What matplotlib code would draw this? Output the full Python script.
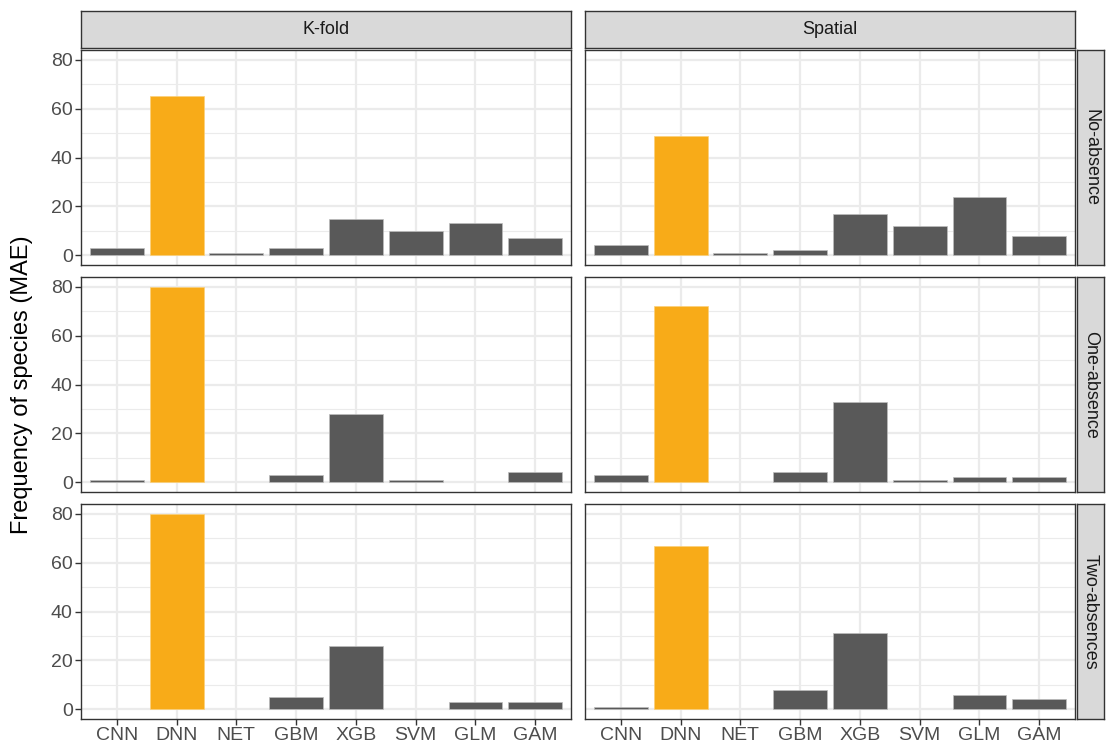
import matplotlib
matplotlib.use("Agg")
import matplotlib.pyplot as plt
import numpy as np

plt.rcParams['font.family'] = ['Liberation Sans', 'DejaVu Sans']

models = ["CNN", "DNN", "NET", "GBM", "XGB", "SVM", "GLM", "GAM"]
cv_types = ["K-fold", "Spatial"]
absences = ["No-absence", "One-absence", "Two-absences"]

# counts of species per model, one list per (absence, cv) panel
kfold_no = [3, 65, 1, 3, 15, 10, 13, 7]
spatial_no = [4, 49, 1, 2, 17, 12, 24, 8]
kfold_one = [1, 80, 0, 3, 28, 1, 0, 4]
spatial_one = [3, 72, 0, 4, 33, 1, 2, 2]
kfold_two = [0, 80, 0, 5, 26, 0, 3, 3]
spatial_two = [1, 67, 0, 8, 31, 0, 6, 4]

panels = [[kfold_no, spatial_no],
          [kfold_one, spatial_one],
          [kfold_two, spatial_two]]

best = "DNN"
c_best = "#F8AB18"
c_other = "#595959"

W, H = 1108, 751
fig = plt.figure(figsize=(W / 100, H / 100), dpi=100)

def box(x0, y0, x1, y1):
    # pixel box (top-left origin) -> figure fraction rect
    return [x0 / W, 1 - y1 / H, (x1 - x0) / W, (y1 - y0) / H]

col_x = [(81, 571), (585, 1075)]
row_y = [(50, 265), (277, 492), (504, 719)]
edge = "#333333"

for r in range(3):
    for c in range(2):
        x0, x1 = col_x[c]
        y0, y1 = row_y[r]
        ax = fig.add_axes(box(x0, y0, x1, y1))
        vals = panels[r][c]
        xs = np.arange(1, len(models) + 1)
        cols = [c_best if m == best else c_other for m in models]
        edges = ["#FBD07A" if m == best else "#bdbdbd" for m in models]
        lws = [0.5 if v > 0 else 0 for v in vals]
        ax.bar(xs, vals, width=0.9, color=cols, edgecolor=edges,
               linewidth=lws, zorder=3)
        ax.set_xlim(0.4, len(models) + 0.6)
        ax.set_ylim(-4, 84)
        ax.set_yticks([0, 20, 40, 60, 80])
        ax.set_yticks([10, 30, 50, 70], minor=True)
        ax.set_xticks(xs)
        ax.grid(True, which="major", color="#EBEBEB", linewidth=1.6, zorder=0)
        ax.grid(True, which="minor", axis="y", color="#EBEBEB", linewidth=0.8, zorder=0)
        ax.tick_params(which="minor", length=0)
        ax.tick_params(which="major", length=4, width=1.0, color=edge,
                       labelsize=14, labelcolor="#4D4D4D", pad=2)
        for s in ax.spines.values():
            s.set_color(edge)
            s.set_linewidth(1.0)
            s.set_zorder(5)
        if c == 0:
            ax.set_yticklabels(["0", "20", "40", "60", "80"])
        else:
            ax.tick_params(axis="y", which="both", left=False, labelleft=False)
        if r == 2:
            ax.set_xticklabels(models)
        else:
            ax.tick_params(axis="x", bottom=False, labelbottom=False)

# column strips
for c in range(2):
    x0, x1 = col_x[c]
    sax = fig.add_axes(box(x0, 11, x1, 48))
    sax.set_facecolor("#D9D9D9")
    sax.set_xticks([])
    sax.set_yticks([])
    for s in sax.spines.values():
        s.set_color(edge)
        s.set_linewidth(1.0)
    sax.text(0.5, 0.5, cv_types[c], ha="center", va="center",
             fontsize=13, color="#1A1A1A", transform=sax.transAxes)

# row strips
for r in range(3):
    y0, y1 = row_y[r]
    sax = fig.add_axes(box(1077, y0, 1104, y1))
    sax.set_facecolor("#D9D9D9")
    sax.set_xticks([])
    sax.set_yticks([])
    for s in sax.spines.values():
        s.set_color(edge)
        s.set_linewidth(1.0)
    sax.text(0.5, 0.5, absences[r], ha="center", va="center", rotation=270,
             fontsize=13, color="#1A1A1A", transform=sax.transAxes)

fig.text(22 / W, 1 - 385 / H, "Frequency of species (MAE)", rotation=90,
         ha="center", va="center", fontsize=17, color="black")

fig.savefig("out.png", dpi=100)
